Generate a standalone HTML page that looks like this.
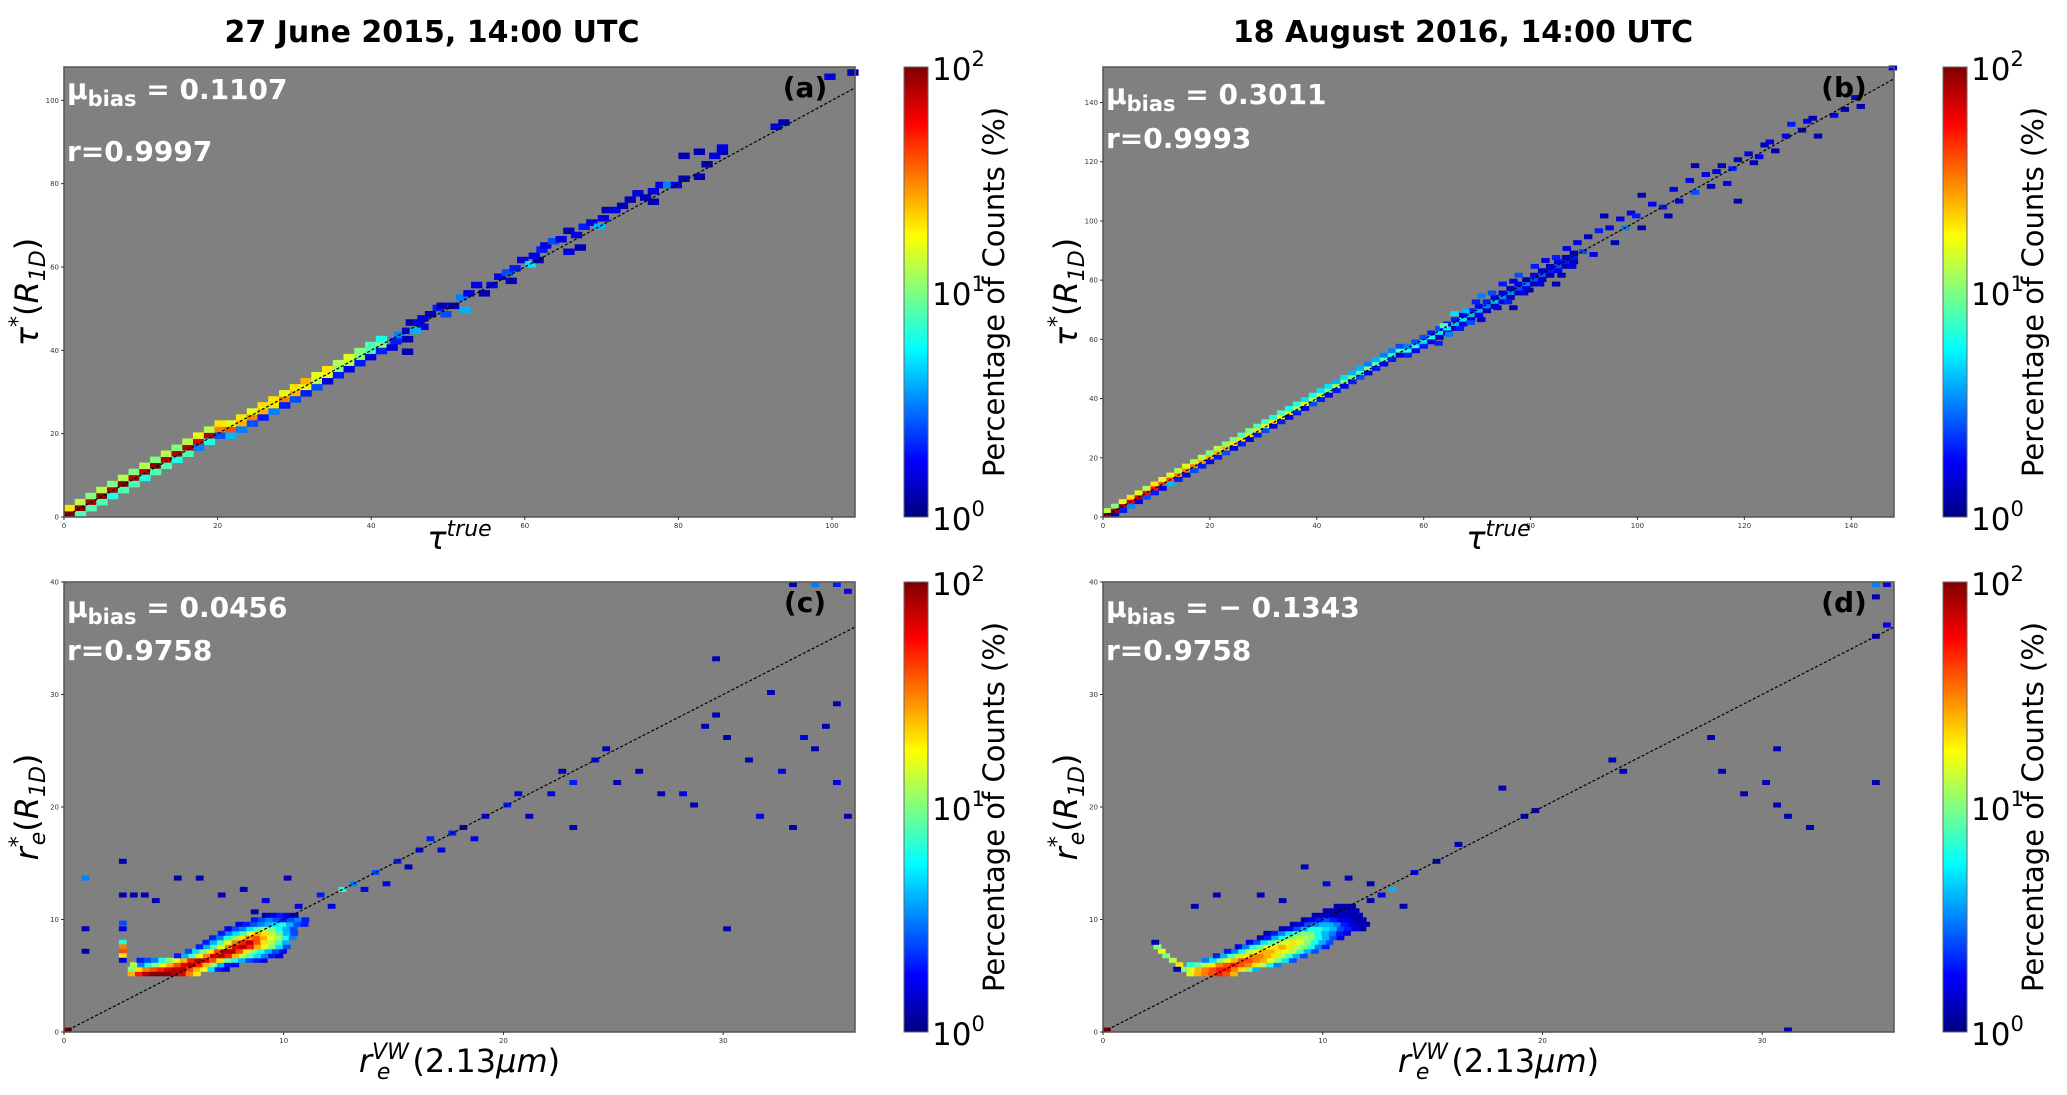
<!DOCTYPE html>
<html><head><meta charset="utf-8"><style>
html,body{margin:0;padding:0;background:#fff;}
svg{display:block;font-family:"DejaVu Sans","Liberation Sans",sans-serif;}
</style></head><body>
<svg id="fig" width="2067" height="1095" viewBox="0 0 2067 1095" xmlns="http://www.w3.org/2000/svg">
<defs>
<linearGradient id="jet" x1="0" y1="1" x2="0" y2="0">
<stop offset="0" stop-color="#00007f"/><stop offset="0.125" stop-color="#0000ff"/><stop offset="0.375" stop-color="#00ffff"/>
<stop offset="0.5" stop-color="#80ff80"/><stop offset="0.625" stop-color="#ffff00"/><stop offset="0.875" stop-color="#ff0000"/><stop offset="1" stop-color="#7f0000"/>
</linearGradient>
</defs>
<text x="432" y="42" text-anchor="middle" font-weight="bold" font-size="30">27 June 2015, 14:00 UTC</text>
<text x="1463" y="42" text-anchor="middle" font-weight="bold" font-size="30">18 August 2016, 14:00 UTC</text>
<g id="layer"></g>
</svg>
<script>
// ---- data (bin values are log10 of percentage of counts) ----
var aOn  = [2,2,1.9,2,1.9,2,1.9,1.9,2,1.9,1.9,1.9,1.8,1.9,1.5,1.6,1.4,1.5,1.4,1.3,1.5,1.4,1.2,1.1,1.2,1.0,1.1,1.0,0.9,1.0];
var aUp  = [1.3,1.1,1.0,1.1,1.0,1.1,1.0,1.1,1.0,1.1,1.0,1.1,1.2,1.1,1.3,1.2,1.3,1.2,1.3,1.3,1.2,1.3,1.4,1.2,1.3,1.1,1.2,1.0,0.9,0.8];
var aLow = [1.0,0.9,0.9,0.9,0.8,0.9,0.9,0.8,0.9,0.9,0.8,0.9,0.5,0.8,0.4,0.6,0.5,0.4,0.3,0.5,0.3,0.4,0.3,0.4,0.2,0.3,0.2,0.3,0.2,0.3];
var aScatter = [[42.5,41.5,0.3],[42,40,0.2],[43,43,0.5],[44,44,0.2],[44.5,46,0.1],[45.5,46,0.2],[44,39,0.1],[46,45,0.2],[47,48,0.1],[48,49.5,0.3],[49,48,0.4],[48.5,50,0.1],[50,50,0.1],[51,52,0.5],[52,53,0.2],[53,55,0.2],[51.5,49,0.6],[54,53,0.1],[55,55,0.2],[56,57,0.2],[57,58,0.4],[57.5,56,0.1],[58,59,0.3],[59,61,0.2],[60,60,0.7],[61,61,0.1],[60.5,62,0.2],[61.5,63.5,0.3],[62,64.5,0.2],[63,65.5,0.4],[64,66,0.2],[65,63,0.2],[65,68,0.1],[66,67,0.2],[66.5,64,0.1],[67,69,0.3],[68,70,0.2],[69,69,0.6],[69.5,71,0.2],[70,73,0.1],[71,73,0.2],[72,74,0.1],[74,77,0.2],[75,76,0.1],[73,75.5,0.1],[76,77.5,0.2],[77,79,0.2],[76,75,0.1],[78,79,0.5],[79,79,0.2],[80,80.5,0.1],[82,81,0.1],[83,84,0.1],[84,86,0.2],[85,87,0.1],[80,86,0.1],[82,87,0.1],[85,88,0.2],[92,93,0.2],[93,94,0.1],[99,105,0.2],[102,106,0.1],[44,42,0.1],[45,44,0.6],[46,47,0.2]];

var bOn  = [2,1.9,1.9,1.8,1.8,1.7,1.7,1.6,1.6,1.5,1.5,1.5,1.4,1.4,1.4,1.4,1.3,1.3,1.3,1.3,1.2,1.3,1.2,1.2,1.1,1.2,1.1,1.1,1.0,1.1,1.0,1.0,0.9,1.0,0.9,0.9,0.8,0.9,0.8,0.8,0.7,0.8,0.7,0.7,0.6,0.7,0.6,0.6,0.5,0.6,0.5,0.5,0.4,0.5,0.4,0.4,0.3,0.4,0.3,0.3];
var bUp  = [1.1,1.0,1.2,1.3,1.2,1.1,1.3,1.2,1.2,1.1,1.2,1.1,1.1,1.0,1.1,1.0,1.0,0.9,1.0,0.9,0.9,0.8,0.9,0.8,0.8,0.7,0.8,0.7,0.7,0.6,0.7,0.6,0.6,0.5,0.6,0.5,0.5,0.4,0.5,0.4,0.4,0.3,0.4,0.3,0.3,0.2,0.3,0.2,0.3,0.2,0.2,0.1,0.2,0.1,0.2,0.1,0.1,0.2,0.1,0.1];
var bLow = [0.2,0.1,0.3,0.5,0.2,0.4,0.3,0.2,0.6,0.3,0.2,0.4,0.3,0.2,0.3,0.4,0.2,0.3,0.2,0.3,0.4,0.2,0.3,0.2,0.3,0.2,0.4,0.3,0.2,0.3,0.2,0.3,0.4,0.2,0.3,0.2,0.3,0.2,0.3,0.2,0.3,0.2,0.1,0.2,0.1,0.2,0.1,0.2,0.1,0.1,0.2,0.1,0.1,0.2,0.1,0.1,0.1,0.2,0.1,0.1];
var bScatter = [[62,58,0.3],[63,64,0.9],[64,61,0.5],[65,68,0.7],[66,63,0.3],[67,69,0.6],[68,65,0.4],[69,72,0.3],[70,66,0.2],[70,74,0.5],[72,75,0.4],[73,70,0.2],[74,78,0.3],[75,72,0.3],[76,79,0.2],[77,81,0.4],[78,75,0.2],[79,76,0.1],[80,84,0.3],[81,78,0.2],[82,86,0.2],[84,87,0.3],[85,81,0.1],[86,90,0.2],[87,84,0.2],[88,92,0.2],[89,89,0.4],[90,94,0.1],[91,88,0.2],[92,96,0.3],[94,97,0.2],[95,92,0.1],[96,100,0.2],[97,97,0.5],[98,102,0.2],[99,101,0.3],[100,97,0.1],[102,105,0.2],[104,104,0.3],[105,101,0.1],[106,110,0.2],[107,106,0.2],[109,113,0.2],[110,109,0.4],[112,115,0.2],[113,111,0.1],[114,116,0.2],[115,118,0.1],[116,112,0.2],[117,117,0.3],[118,120,0.1],[120,122,0.2],[121,119,0.1],[122,121,0.2],[123,125,0.1],[124,126,0.2],[125,123,0.1],[127,128,0.2],[128,132,0.3],[130,130,0.1],[131,133,0.2],[132,134,0.1],[133,128,0.1],[136,135,0.2],[138,137,0.1],[140,141,0.1],[141,138,0.1],[147,151,0.2],[118,106,0.1],[110,118,0.1],[100,108,0.1],[84,78,0.1],[76,70,0.1],[93,101,0.1]];

var cRowY  = [5.0,5.4,5.8,6.2,6.6,7.0,7.4,7.8,8.2,8.6,9.0,9.4,9.8,10.2];
var cRowX0 = [2.9,2.9,3.0,3.3,5.0,5.5,6.0,6.3,6.6,7.0,7.3,7.8,8.5,9.0];
var cRowV  = [[1.4,1.7,1.9,2,2,2,1.9,1.8,1.5,1.3],
 [1.0,1.3,1.5,1.6,1.7,1.8,1.9,1.9,1.6,1.4,1.2,0.7,0.3,0.2],
 [1.1,0.5,0.8,1.0,1.2,1.4,1.6,1.8,1.9,1.7,1.4,1.0,0.6,0.3,0.2],
 [0.3,0.4,0.5,0.8,1.0,1.2,1.4,1.7,1.9,1.8,1.6,1.3,1.0,0.8,0.6,0.4,0.3,0.2],
 [0.3,0.6,0.9,1.2,1.5,1.8,1.9,1.7,1.4,1.1,0.9,0.7,0.5,0.3,0.2],
 [0.4,0.7,1.0,1.3,1.6,1.9,1.9,1.6,1.3,1.0,0.8,0.6,0.4,0.2],
 [0.3,0.6,0.9,1.2,1.5,1.8,1.9,1.7,1.4,1.2,1.0,0.7,0.4],
 [0.3,0.6,0.9,1.2,1.5,1.7,1.9,1.6,1.3,1.1,0.9,0.6],
 [0.3,0.5,0.8,1.0,1.3,1.5,1.6,1.4,1.2,1.1,0.8,0.5],
 [0.3,0.5,0.7,0.9,1.2,1.4,1.3,1.1,0.9,0.6,0.4],
 [0.2,0.4,0.5,0.7,0.9,1.1,1.0,0.8,0.6,0.4],
 [0.2,0.3,0.4,0.5,0.6,0.7,0.8,0.6,0.4,0.3],
 [0.3,0.4,0.5,0.4,0.3,0.4,0.5,0.3],
 [0.1,0.2,0.3,0.2,0.1]];
var cScatter = [[0,0,2],[11.5,12,0.3],[12,11,0.2],[12.5,12.5,0.8],[13,13,0.5],[13.5,12.5,0.2],[14,14,0.4],[14.5,13,0.2],[15,15,0.3],[15.5,14.5,0.1],[16,16,0.2],[16.5,17,0.3],[17,16,0.2],[17.5,17.5,0.3],[18,18,0.1],[18.5,17,0.2],[19,19,0.2],[20,20,0.3],[20.5,21,0.2],[21,19,0.1],[22,21,0.2],[22.5,23,0.1],[23,22,0.3],[24,24,0.2],[24.5,25,0.1],[25,22,0.1],[26,23,0.1],[27,21,0.1],[28,21,0.2],[28.5,20,0.1],[29,27,0.1],[29.5,28,0.1],[30,26,0.1],[31,24,0.1],[31.5,19,0.2],[32,30,0.1],[32.5,23,0.2],[33,18,0.1],[33.5,26,0.2],[34,25,0.1],[34.5,27,0.1],[35,29,0.1],[35,22,0.2],[35.5,19,0.1],[35,39.6,0.3],[34,39.6,0.5],[35.5,39,0.2],[33,39.6,0.1],[29.5,33,0.1],[23,18,0.1],[30,9,0.1],[0.8,13.5,0.5],[0.8,9,0.1],[0.8,7,0.1],[2.5,15,0.1],[2.5,12,0.1],[3,12,0.1],[3.5,12,0.1],[4,11.5,0.1],[5,13.5,0.1],[6,13.5,0.1],[2.5,9.5,0.4],[2.5,9,0.2],[2.5,7.8,0.8],[2.5,7.4,1.5],[2.5,7,1.6],[2.5,6.6,1.3],[2.5,6.2,0.2],[7,12,0.1],[8,12.5,0.1],[9,11.5,0.2],[10,13.5,0.1],[8.5,10.5,0.1],[10.5,11,0.2]];

var dRowY  = [5.0,5.4,5.8,6.2,6.6,7.0,7.4,7.8,8.2,8.6,9.0,9.4,9.8,10.2,10.6,11.0];
var dRowX0 = [3.8,3.5,3.8,4.5,5.0,5.5,6.0,6.5,7.0,7.3,8.0,8.5,9.0,9.5,10.0,10.5];
var dRowV  = [[1.2,1.4,1.5,1.6,1.7,1.6,1.4],
 [1.0,1.2,1.4,1.5,1.6,1.7,1.7,1.5,1.3,1.0,0.6],
 [0.8,0.9,1.1,1.3,1.5,1.6,1.7,1.6,1.5,1.3,1.1,0.8,0.5],
 [0.5,0.7,1.0,1.2,1.4,1.6,1.6,1.5,1.4,1.2,1.0,0.7,0.4],
 [0.3,0.6,0.9,1.1,1.3,1.5,1.5,1.4,1.3,1.1,0.9,0.6,0.4],
 [0.3,0.5,0.8,1.1,1.2,1.4,1.4,1.3,1.2,1.1,0.9,0.6,0.4],
 [0.2,0.5,0.8,1.0,1.2,1.3,1.4,1.3,1.1,1.0,0.8,0.5,0.3],
 [0.2,0.4,0.7,0.9,1.1,1.2,1.3,1.2,1.0,0.8,0.6,0.4],
 [0.1,0.3,0.6,0.8,1.0,1.1,1.1,1.0,0.8,0.6,0.4,0.2],
 [0.1,0.3,0.5,0.7,0.9,1.0,1.0,0.8,0.6,0.5,0.3,0.2],
 [0.1,0.2,0.4,0.6,0.8,0.8,0.7,0.6,0.4,0.3,0.2,0.1],
 [0.1,0.2,0.4,0.5,0.6,0.6,0.5,0.3,0.2,0.1,0.1],
 [0.1,0.2,0.3,0.4,0.3,0.2,0.2,0.1,0.1],
 [0.1,0.1,0.2,0.1,0.1,0.1,0.1],
 [0.1,0.1,0.1,0.1,0.1],
 [0.1,0.1,0.1]];
var dScatter = [[0,0,2],[2.3,7.4,1.0],[2.5,7,1.2],[2.7,6.6,1.0],[3,6.2,1.1],[3.3,5.8,1.3],[3.2,5.4,0.1],[2.2,7.8,0.1],[9,14.5,0.1],[10,13,0.2],[11,13.5,0.1],[12,13,0.1],[12.5,12,0.2],[13,12.5,0.6],[14,14,0.2],[15,15,0.1],[16,16.5,0.1],[18,21.5,0.1],[19,19,0.1],[19.5,19.5,0.1],[23,24,0.1],[23.5,23,0.1],[27.5,26,0.1],[28,23,0.1],[29,21,0.1],[30,22,0.1],[30.5,20,0.1],[30.5,25,0.1],[31,19,0.1],[32,18,0.1],[35,22,0.1],[35.5,36,0.2],[35,38.5,0.1],[35.5,39.6,0.2],[35,39.6,0.5],[31,0,0.1],[35,35,0.1],[5,12,0.1],[7,12,0.1],[8,11.5,0.1],[4,11,0.1],[13.5,11,0.1],[12,11.5,0.1]];

var ticksAB_a = [0,20,40,60,80,100];
var ticksAB_b = [0,20,40,60,80,100,120,140];
var ticksCD_x = [0,10,20,30];
var ticksCD_y = [0,10,20,30,40];
var cbTicks = ["2","1","0"];

var NS = "http://www.w3.org/2000/svg";
var layer = document.getElementById('layer');
function mk(tag, attrs, parent){ var e=document.createElementNS(NS,tag); for(var k in attrs) e.setAttribute(k,attrs[k]); (parent||layer).appendChild(e); return e; }
function jet(v){ var t=Math.max(0,Math.min(1,v/2)); function c(x){return Math.round(255*Math.max(0,Math.min(1,x)));}
  return 'rgb('+c(1.5-Math.abs(4*t-3))+','+c(1.5-Math.abs(4*t-2))+','+c(1.5-Math.abs(4*t-1))+')'; }

function panel(P){
  var g = mk('g',{});
  
  
  function sx(v){ return P.x0 + v/P.xmax*P.w; }
  function sy(v){ return P.y0 + P.h - v/P.ymax*P.h; }
  var bg = mk('rect',{x:P.x0,y:P.y0,width:P.w,height:P.h,fill:'#808080'},g);
  
  
  function cell(x,y,v){
    var r = mk('rect',{x:sx(x).toFixed(1),y:(sy(y+P.dy)).toFixed(1),width:(P.dx/P.xmax*P.w+0.5).toFixed(1),height:(P.dy/P.ymax*P.h+0.5).toFixed(1),fill:jet(v)},g);
    
    
  }
  if(P.on){ for(var i=0;i<P.on.length;i++){ var x=i*P.dx, row=Math.round(x/P.dy);
      cell(x,row*P.dy,P.on[i]); cell(x,(row+1)*P.dy,P.up[i]); if(row>0) cell(x,(row-1)*P.dy,P.low[i]); } }
  if(P.rowY){ for(var j=0;j<P.rowY.length;j++){ for(var k=0;k<P.rowV[j].length;k++){ cell(P.rowX0[j]+k*P.dx, P.rowY[j], P.rowV[j][k]); } } }
  P.scatter.forEach(function(s){ cell(s[0],s[1],s[2]); });
  var lim=Math.min(P.xmax,P.ymax);
  var ln = mk('line',{x1:sx(0),y1:sy(0),x2:sx(lim),y2:sy(lim),stroke:'#000','stroke-width':1.2,'stroke-dasharray':'3,2'},g);
  
  
  var fr = mk('rect',{x:P.x0,y:P.y0,width:P.w,height:P.h,fill:'none',stroke:'#555','stroke-width':1.5},g);
  
  
  P.xt.forEach(function(t){ mk('line',{x1:sx(t),x2:sx(t),y1:P.y0+P.h,y2:P.y0+P.h+3,stroke:'#333'},g);
    var tx=mk('text',{x:sx(t),y:P.y0+P.h+11,'font-size':7,'text-anchor':'middle',fill:'#333'},g); tx.textContent=t;
    
     });
  P.yt.forEach(function(t){ mk('line',{x1:P.x0-3,x2:P.x0,y1:sy(t),y2:sy(t),stroke:'#333'},g);
    var tx=mk('text',{x:P.x0-5,y:sy(t)+2.5,'font-size':7,'text-anchor':'end',fill:'#333'},g); tx.textContent=t;
    
     });
  var m = mk('text',{x:P.x0+3,y:P.muY,'font-size':28,'font-weight':'bold',fill:'#fff'},g);
  m.innerHTML = 'μ<tspan font-size="21" dy="7">bias</tspan><tspan dy="-7"> = '+P.mu+'</tspan>';
  
  
  var r = mk('text',{x:P.x0+3,y:P.rY,'font-size':28,'font-weight':'bold',fill:'#fff'},g); r.textContent='r='+P.r;
  
  
  var lb = mk('text',{x:P.x0+P.w-50,y:P.y0+30,'font-size':28,'font-weight':'bold','text-anchor':'middle',fill:'#000'},g); lb.textContent=P.label;
  
  
  var cx=P.cbx, cb = mk('rect',{x:cx,y:P.y0,width:24,height:P.h,fill:'url(#jet)',stroke:'#666','stroke-width':1},g);
  
  
  cbTicks.forEach(function(e,i){ var ty=P.y0+i*P.h/2;
    var t=mk('text',{x:cx+28,y:ty+13,'font-size':31,fill:'#000'},g);
    t.innerHTML='10<tspan font-size="21" dy="-14">'+e+'</tspan>';
    
     });
  var cl = mk('text',{x:0,y:0,'font-size':29,'text-anchor':'middle',transform:'translate('+(cx+100)+','+(P.y0+P.h/2)+') rotate(-90)'},g);
  cl.textContent='Percentage of Counts (%)';
  
  
  var yl = mk('text',{x:0,y:0,'font-size':32,'text-anchor':'middle','font-style':'italic',transform:'translate('+(P.x0-26)+','+(P.y0+P.h/2)+') rotate(-90)'},g);
  yl.innerHTML = P.ylab;
  
  
  var xl = mk('text',{x:P.x0+P.w/2,y:P.y0+P.h+P.xlabDy,'font-size':32,'text-anchor':'middle','font-style':'italic'},g);
  xl.innerHTML = P.xlab;
  
  
}

var ylTau = 'τ<tspan font-size="22" dy="-13">*</tspan><tspan dy="13" font-style="normal">(</tspan>R<tspan font-size="22" dy="7">1D</tspan><tspan dy="-7" font-style="normal">)</tspan>';
var xlTau = 'τ<tspan font-size="22" dy="-13">true</tspan>';
var ylRe = 'r<tspan font-size="22" dy="-13">*</tspan><tspan font-size="22" dx="-9" dy="20">e</tspan><tspan dy="-7" font-style="normal">(</tspan>R<tspan font-size="22" dy="7">1D</tspan><tspan dy="-7" font-style="normal">)</tspan>';
var xlRe = 'r<tspan font-size="22" dy="-13">VW</tspan><tspan font-size="22" dx="-32" dy="20">e</tspan><tspan dx="22" dy="-7" font-style="normal">(2.13</tspan>μm<tspan font-style="normal">)</tspan>';

panel({name:'panel-a',x0:64,y0:67,w:791,h:450,xmax:103,ymax:108,dx:1.4,dy:1.45,on:aOn,up:aUp,low:aLow,scatter:aScatter,xt:ticksAB_a,yt:ticksAB_a,mu:'0.1107',r:'0.9997',muY:99,rY:161,label:'(a)',cbx:904,ylab:ylTau,xlab:xlTau,xlabDy:32});
panel({name:'panel-b',x0:1103,y0:67,w:791,h:450,xmax:148,ymax:152,dx:1.48,dy:1.5,on:bOn,up:bUp,low:bLow,scatter:bScatter,xt:ticksAB_b,yt:ticksAB_b,mu:'0.3011',r:'0.9993',muY:104,rY:148,label:'(b)',cbx:1943,ylab:ylTau,xlab:xlTau,xlabDy:32});
panel({name:'panel-c',x0:64,y0:582,w:791,h:450,xmax:36,ymax:40,dx:0.33,dy:0.4,rowY:cRowY,rowX0:cRowX0,rowV:cRowV,scatter:cScatter,xt:ticksCD_x,yt:ticksCD_y,mu:'0.0456',r:'0.9758',muY:617,rY:660,label:'(c)',cbx:904,ylab:ylRe,xlab:xlRe,xlabDy:40});
panel({name:'panel-d',x0:1103,y0:582,w:791,h:450,xmax:36,ymax:40,dx:0.33,dy:0.4,rowY:dRowY,rowX0:dRowX0,rowV:dRowV,scatter:dScatter,xt:ticksCD_x,yt:ticksCD_y,mu:'− 0.1343',r:'0.9758',muY:617,rY:660,label:'(d)',cbx:1943,ylab:ylRe,xlab:xlRe,xlabDy:40});
</script>
</body></html>
